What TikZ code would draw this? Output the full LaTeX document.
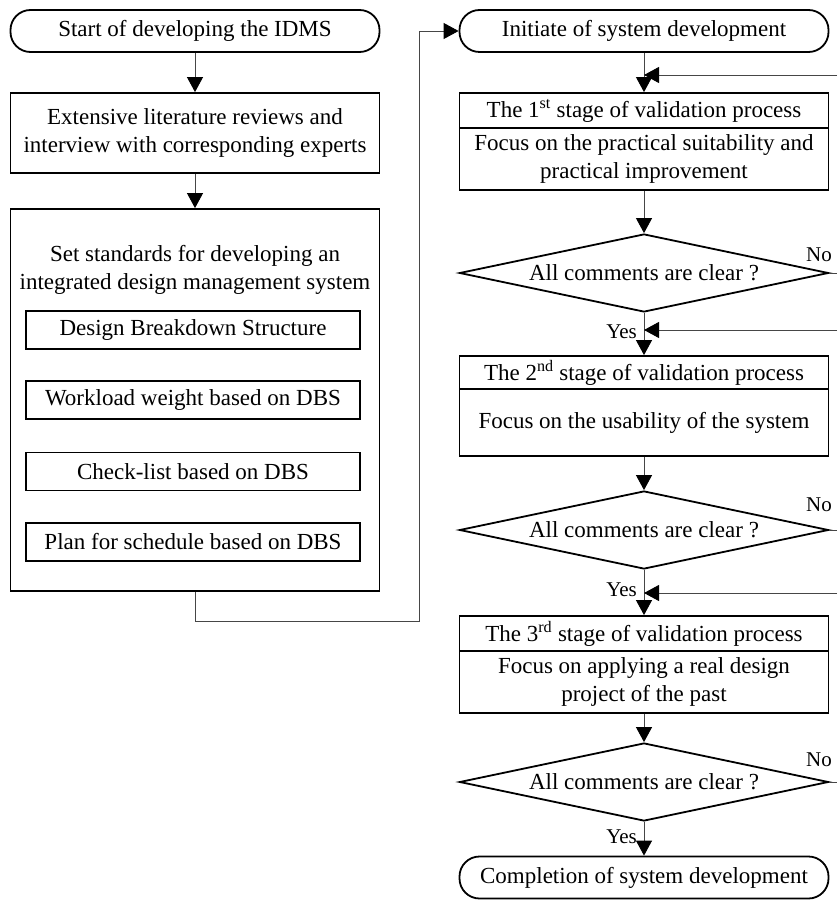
\documentclass[tikz,border=0pt]{standalone}
\usepackage{fontspec}
\setmainfont{Liberation Serif}
\usetikzlibrary{shapes.geometric,arrows.meta}
\definecolor{flowGray}{RGB}{70,70,70}

\tikzset{
  terminal/.style={draw, line width=1.8pt, rounded corners=20pt, minimum width=369pt, minimum height=42pt, inner sep=0pt},
  procbox/.style={draw, line width=1.8pt, minimum width=369pt, inner sep=0pt, align=center},
  subbox/.style={draw, line width=1.8pt, minimum width=334pt, minimum height=38pt, inner sep=0pt},
  decision/.style={draw, diamond, line width=1.8pt, minimum width=369pt, minimum height=78pt, aspect=4.7, inner sep=0pt},
  flow/.style={-{Triangle[length=15pt,width=16pt,color=black]}, line width=0.9pt, flowGray},
  link/.style={line width=0.9pt, flowGray},
  answer/.style={font=\fontsize{21}{24}\selectfont, inner sep=1pt}
}

\begin{document}
\begin{tikzpicture}[x=1pt, y=-1pt, font=\fontsize{23}{28}\selectfont]
  \useasboundingbox (0,0) rectangle (837,901);

  % left column
  \node[terminal] (start) at (195,31) {Start of developing the IDMS};
  \node[procbox, minimum height=80pt] (review) at (195,133) {Extensive literature reviews and\\interview with corresponding experts};
  \node[procbox, minimum height=382pt] (standards) at (195,400) {};
  \node[align=center] (stdtitle) at (195,270) {Set standards for developing an\\integrated design management system};
  \node[subbox] (dbs) at (193,330) {Design Breakdown Structure};
  \node[subbox] (workload) at (193,400) {Workload weight based on DBS};
  \node[subbox] (checklist) at (193,471.5) {Check-list based on DBS};
  \node[subbox] (schedule) at (193,542) {Plan for schedule based on DBS};

  % right column
  \node[terminal] (initiate) at (644,31) {Initiate of system development};
  \node[procbox, minimum height=35pt] (stage1) at (644,110.5) {The 1\textsuperscript{st} stage of validation process};
  \node[procbox, minimum height=62pt] (focus1) at (644,159) {Focus on the practical suitability and\\practical improvement};
  \node[decision] (check1) at (644,273) {All comments are clear ?};
  \node[procbox, minimum height=33pt] (stage2) at (644,372.5) {The 2\textsuperscript{nd} stage of validation process};
  \node[procbox, minimum height=67pt] (focus2) at (644,422.5) {Focus on the usability of the system};
  \node[decision] (check2) at (644,530) {All comments are clear ?};
  \node[procbox, minimum height=35pt] (stage3) at (644,633.5) {The 3\textsuperscript{rd} stage of validation process};
  \node[procbox, minimum height=62pt] (focus3) at (644,682) {Focus on applying a real design\\project of the past};
  \node[decision] (check3) at (644,782) {All comments are clear ?};
  \node[terminal] (finish) at (644,877.5) {Completion of system development};

  \draw[flow] (start) -- (review);
  \draw[flow] (review) -- (standards);
  \coordinate (turn) at (419,621);
  \draw[flow] (standards.south) |- (turn) |- (initiate.west);

  % right edge ends
  \coordinate (back1) at (837,75);
  \coordinate (back2) at (837,330);
  \coordinate (back3) at (837,593);
  \coordinate (no1) at (837,273);
  \coordinate (no2) at (837,530);
  \coordinate (no3) at (837,782);

  \draw[flow] (initiate) -- (stage1);
  \draw[flow] (back1) -- (back1 -| initiate.south);
  \draw[flow] (focus1) -- (check1);
  \draw[link] (check1.east) -- (no1);
  \draw[flow] (check1) -- (stage2);
  \draw[flow] (back2) -- (back2 -| check1.south);
  \draw[flow] (focus2) -- (check2);
  \draw[link] (check2.east) -- (no2);
  \draw[flow] (check2) -- (stage3);
  \draw[flow] (back3) -- (back3 -| check2.south);
  \draw[flow] (focus3) -- (check3);
  \draw[link] (check3.east) -- (no3);
  \draw[flow] (check3) -- (finish);

  % answers
  \node[answer] (no1label) at (819,255) {No};
  \node[answer] (no2label) at (819,505) {No};
  \node[answer] (no3label) at (819,760) {No};
  \node[answer, anchor=east] (yes1label) at (638,332) {Yes};
  \node[answer, anchor=east] (yes2label) at (638,590) {Yes};
  \node[answer, anchor=east] (yes3label) at (638,837) {Yes};
\end{tikzpicture}
\end{document}
